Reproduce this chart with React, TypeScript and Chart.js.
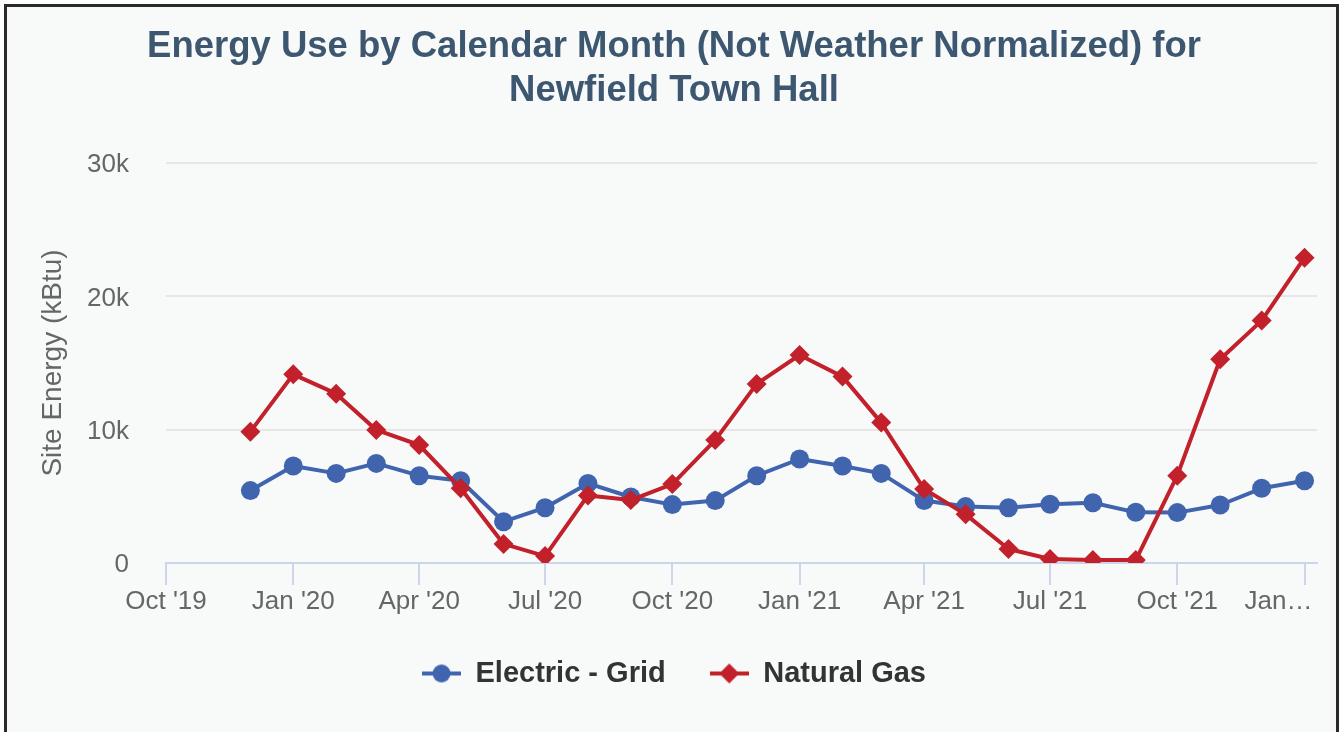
import React, { useEffect, useRef } from 'react';
import { Chart, registerables } from 'chart.js';

Chart.register(...registerables);

// ---- data ----
const months = [
  '2019-12', '2020-01', '2020-02', '2020-03', '2020-04', '2020-05', '2020-06',
  '2020-07', '2020-08', '2020-09', '2020-10', '2020-11', '2020-12', '2021-01',
  '2021-02', '2021-03', '2021-04', '2021-05', '2021-06', '2021-07', '2021-08',
  '2021-09', '2021-10', '2021-11', '2021-12', '2022-01',
];
const electricGrid = [
  5430, 7280, 6720, 7470, 6550, 6170, 3100, 4150, 5970, 4950, 4380, 4680, 6550,
  7800, 7280, 6720, 4680, 4230, 4150, 4400, 4520, 3800, 3780, 4350, 5600, 6170,
];
const naturalGas = [
  9850, 14150, 12700, 9980, 8850, 5600, 1430, 520, 5070, 4720, 5920, 9220, 13430,
  15600, 13980, 10530, 5550, 3650, 1050, 300, 220, 220, 6550, 15280, 18180, 22900,
];
const xTickMonths = [
  '2019-10', '2020-01', '2020-04', '2020-07', '2020-10',
  '2021-01', '2021-04', '2021-07', '2021-10', '2022-01',
];
const xTickLabels = [
  "Oct '19", "Jan '20", "Apr '20", "Jul '20", "Oct '20",
  "Jan '21", "Apr '21", "Jul '21", "Oct '21", 'Jan…',
];
const yTickLabels = ['0', '10k', '20k', '30k'];
const seriesNames = ['Electric - Grid', 'Natural Gas'];
const titleLines = [
  'Energy Use by Calendar Month (Not Weather Normalized) for',
  'Newfield Town Hall',
];
const yAxisTitle = 'Site Energy (kBtu)';
const axisStart = '2019-10-01';
const axisEnd = '2022-01-10';

// ---- styles ----
const BLUE = '#4064ae';
const RED = '#c2202a';
const FONT = "'Liberation Sans', Arial, Helvetica, sans-serif";

const toMs = (s: string) => {
  const p = s.split('-').map(Number);
  return Date.UTC(p[0], p[1] - 1, p[2] || 1);
};

function makeSymbol(kind: 'circle' | 'diamond', color: string) {
  const c = document.createElement('canvas');
  c.width = 39;
  c.height = 22;
  const g = c.getContext('2d')!;
  g.strokeStyle = color;
  g.fillStyle = color;
  g.lineWidth = 4;
  g.beginPath();
  g.moveTo(0, 11);
  g.lineTo(39, 11);
  g.stroke();
  g.beginPath();
  if (kind === 'circle') {
    g.arc(19.5, 11, 9, 0, Math.PI * 2);
  } else {
    g.moveTo(19.5, 1);
    g.lineTo(29.5, 11);
    g.lineTo(19.5, 21);
    g.lineTo(9.5, 11);
    g.closePath();
  }
  g.fill();
  return c;
}

export default function App() {
  const ref = useRef<HTMLCanvasElement | null>(null);

  useEffect(() => {
    if (!ref.current) return;
    const symE = makeSymbol('circle', BLUE);
    const symG = makeSymbol('diamond', RED);
    const xs = months.map(toMs);

    const chart = new Chart(ref.current, {
      type: 'line',
      data: {
        datasets: [
          {
            label: seriesNames[0],
            data: xs.map((x, i) => ({ x, y: electricGrid[i] })),
            borderColor: BLUE,
            backgroundColor: BLUE,
            borderWidth: 4,
            borderJoinStyle: 'round',
            pointStyle: 'circle',
            pointRadius: 9.5,
            pointHoverRadius: 9.5,
            pointBorderWidth: 0,
            pointBackgroundColor: BLUE,
            tension: 0,
            order: 1,
          },
          {
            label: seriesNames[1],
            data: xs.map((x, i) => ({ x, y: naturalGas[i] })),
            borderColor: RED,
            backgroundColor: RED,
            borderWidth: 4,
            borderJoinStyle: 'round',
            pointStyle: 'rectRot',
            pointRadius: 10,
            pointHoverRadius: 10,
            pointBorderWidth: 0,
            pointBackgroundColor: RED,
            tension: 0,
            order: 0,
          },
        ],
      },
      options: {
        responsive: false,
        animation: false,
        devicePixelRatio: 1,
        layout: { padding: { left: 5, right: 0, top: 0, bottom: 34 } },
        scales: {
          x: {
            type: 'linear',
            min: toMs(axisStart),
            max: toMs(axisEnd),
            afterBuildTicks: (scale: any) => {
              scale.ticks = xTickMonths.map((m) => ({ value: toMs(m) }));
            },
            afterFit: (scale: any) => {
              scale.height = 52;
              scale.paddingLeft = 0;
              scale.paddingRight = 19;
            },
            grid: {
              display: true,
              drawOnChartArea: false,
              drawTicks: true,
              tickLength: 22,
              color: '#ccd6eb',
              lineWidth: 2,
            },
            border: { display: true, color: '#ccd6eb', width: 2 },
            ticks: {
              autoSkip: false,
              maxRotation: 0,
              minRotation: 0,
              padding: 4,
              color: '#666666',
              font: { family: FONT, size: 26, lineHeight: 1 },
              callback: (_v: any, i: number) =>
                i === xTickLabels.length - 1
                  ? xTickLabels[i] + '\u2002\u2002\u2002\u2002'
                  : xTickLabels[i],
            },
          },
          y: {
            min: 0,
            max: 30000,
            afterFit: (scale: any) => {
              scale.width = 154;
            },
            grid: {
              drawTicks: false,
              lineWidth: 2,
              color: (ctx: any) =>
                ctx.tick && ctx.tick.value === 0 ? 'rgba(0,0,0,0)' : '#e6e6e6',
            },
            border: { display: false },
            ticks: {
              stepSize: 10000,
              padding: 37,
              labelOffset: 2,
              color: '#666666',
              font: { family: FONT, size: 26, lineHeight: 1.2 },
              callback: (_v: any, i: number) => yTickLabels[i],
            },
            title: {
              display: true,
              text: yAxisTitle,
              color: '#666666',
              font: { family: FONT, size: 28, lineHeight: 1.2 },
              padding: { top: 24, bottom: 0 },
            },
          },
        },
        plugins: {
          tooltip: { enabled: false },
          title: {
            display: true,
            text: titleLines,
            color: '#3d5771',
            font: { family: FONT, size: 36.5, weight: 'bold', lineHeight: 1.2 },
            padding: { top: 18.5, bottom: 49.9 },
          },
          legend: {
            display: true,
            position: 'bottom',
            labels: {
              usePointStyle: true,
              pointStyleWidth: 39,
              padding: 44,
              color: '#333333',
              font: { family: FONT, size: 29, weight: 'bold' },
              generateLabels: () => [
                {
                  text: seriesNames[0],
                  pointStyle: symE,
                  fillStyle: BLUE,
                  strokeStyle: BLUE,
                  lineWidth: 0,
                  hidden: false,
                  datasetIndex: 0,
                  fontColor: '#333333',
                } as any,
                {
                  text: seriesNames[1],
                  pointStyle: symG,
                  fillStyle: RED,
                  strokeStyle: RED,
                  lineWidth: 0,
                  hidden: false,
                  datasetIndex: 1,
                  fontColor: '#333333',
                } as any,
              ],
            },
          },
        },
      } as any,
    });
    return () => chart.destroy();
  }, []);

  return (
    <div
      style={{
        position: 'absolute',
        left: 0,
        top: 0,
        width: 1340,
        height: 732,
        overflow: 'hidden',
        background: '#ffffff',
      }}
    >
      <div
        style={{
          position: 'absolute',
          left: 4,
          top: 4,
          width: 1329,
          height: 740,
          border: '3px solid #2a2a2a',
          background: '#f8fafa',
        }}
      >
        <canvas ref={ref} width={1329} height={725} style={{ display: 'block' }} />
      </div>
    </div>
  );
}
